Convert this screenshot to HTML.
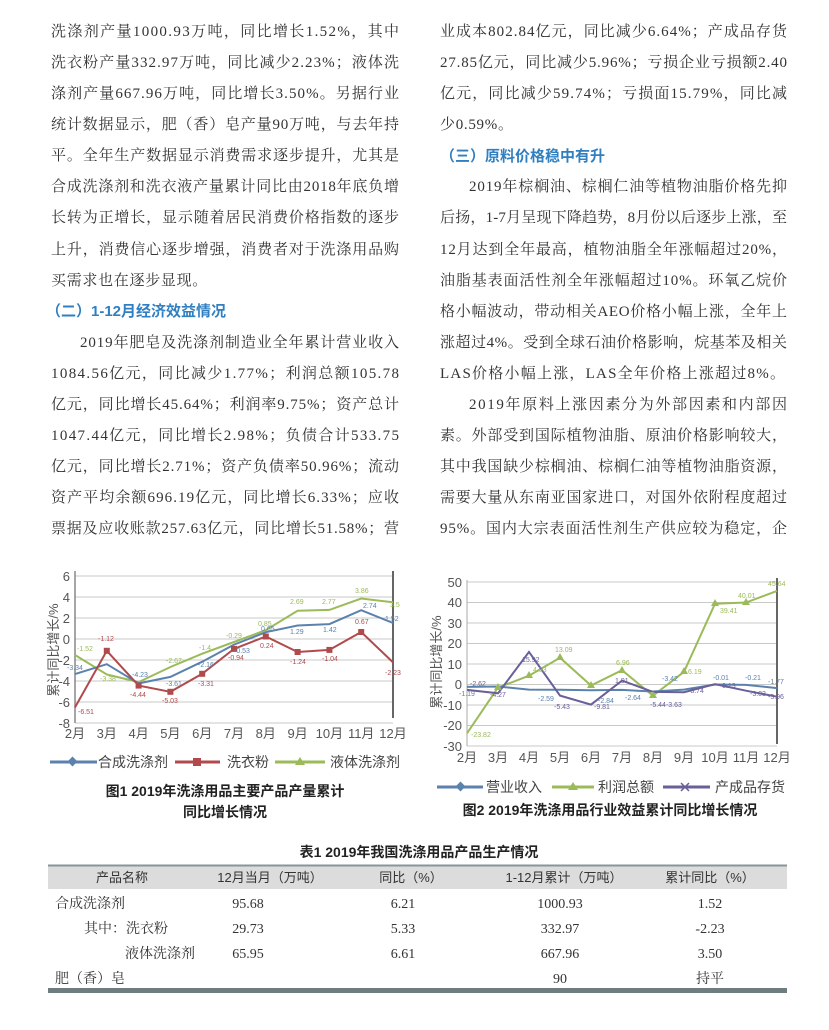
<!DOCTYPE html>
<html><head><meta charset="utf-8"><style>
html,body{margin:0;padding:0;background:#fff;}
svg{display:block;}
.t{font-family:"Liberation Serif","Noto Serif CJK SC",serif;font-size:15px;fill:#333;}
.h{font-family:"Liberation Sans","Noto Sans CJK SC",sans-serif;font-size:15px;font-weight:bold;fill:#2f7fc1;}
.ax{font-family:"Liberation Sans","Noto Sans CJK SC",sans-serif;font-size:13px;fill:#555;}
.lg{font-family:"Liberation Sans","Noto Sans CJK SC",sans-serif;font-size:14px;fill:#444;}
.cap{font-family:"Liberation Sans","Noto Sans CJK SC",sans-serif;font-size:14px;font-weight:bold;fill:#222;}
.dl{font-family:"Liberation Sans",sans-serif;font-size:7px;}
.tb{font-family:"Liberation Serif","Noto Serif CJK SC",serif;font-size:14px;fill:#333;}
.th{font-family:"Liberation Sans","Noto Sans CJK SC",sans-serif;font-size:13px;fill:#333;}
</style></head><body>
<svg width="829" height="1030" viewBox="0 0 829 1030" xmlns="http://www.w3.org/2000/svg">
<rect width="829" height="1030" fill="#fff"/>
<g class="t">
<text x="51" y="36" textLength="348" lengthAdjust="spacing">洗涤剂产量1000.93万吨，同比增长1.52%，其中</text>
<text x="51" y="67" textLength="348" lengthAdjust="spacing">洗衣粉产量332.97万吨，同比减少2.23%；液体洗</text>
<text x="51" y="98" textLength="348" lengthAdjust="spacing">涤剂产量667.96万吨，同比增长3.50%。另据行业</text>
<text x="51" y="129" textLength="348" lengthAdjust="spacing">统计数据显示，肥（香）皂产量90万吨，与去年持</text>
<text x="51" y="160" textLength="348" lengthAdjust="spacing">平。全年生产数据显示消费需求逐步提升，尤其是</text>
<text x="51" y="191" textLength="348" lengthAdjust="spacing">合成洗涤剂和洗衣液产量累计同比由2018年底负增</text>
<text x="51" y="222" textLength="348" lengthAdjust="spacing">长转为正增长，显示随着居民消费价格指数的逐步</text>
<text x="51" y="254" textLength="348" lengthAdjust="spacing">上升，消费信心逐步增强，消费者对于洗涤用品购</text>
<text x="51" y="285" letter-spacing="0.7">买需求也在逐步显现。</text>
<text x="80" y="347" textLength="319" lengthAdjust="spacing">2019年肥皂及洗涤剂制造业全年累计营业收入</text>
<text x="51" y="378" textLength="348" lengthAdjust="spacing">1084.56亿元，同比减少1.77%；利润总额105.78</text>
<text x="51" y="409" textLength="348" lengthAdjust="spacing">亿元，同比增长45.64%；利润率9.75%；资产总计</text>
<text x="51" y="440" textLength="348" lengthAdjust="spacing">1047.44亿元，同比增长2.98%；负债合计533.75</text>
<text x="51" y="471" textLength="348" lengthAdjust="spacing">亿元，同比增长2.71%；资产负债率50.96%；流动</text>
<text x="51" y="502" textLength="348" lengthAdjust="spacing">资产平均余额696.19亿元，同比增长6.33%；应收</text>
<text x="51" y="533" textLength="348" lengthAdjust="spacing">票据及应收账款257.63亿元，同比增长51.58%；营</text>
</g>
<text class="h" x="46" y="316">（二）1-12月经济效益情况</text>
<g class="t">
<text x="440" y="36" textLength="347" lengthAdjust="spacing">业成本802.84亿元，同比减少6.64%；产成品存货</text>
<text x="440" y="67" textLength="347" lengthAdjust="spacing">27.85亿元，同比减少5.96%；亏损企业亏损额2.40</text>
<text x="440" y="98" textLength="347" lengthAdjust="spacing">亿元，同比减少59.74%；亏损面15.79%，同比减</text>
<text x="440" y="129" letter-spacing="0.7">少0.59%。</text>
<text x="469" y="191" textLength="318" lengthAdjust="spacing">2019年棕榈油、棕榈仁油等植物油脂价格先抑</text>
<text x="440" y="222" textLength="347" lengthAdjust="spacing">后扬，1-7月呈现下降趋势，8月份以后逐步上涨，至</text>
<text x="440" y="254" textLength="347" lengthAdjust="spacing">12月达到全年最高，植物油脂全年涨幅超过20%，</text>
<text x="440" y="285" textLength="347" lengthAdjust="spacing">油脂基表面活性剂全年涨幅超过10%。环氧乙烷价</text>
<text x="440" y="316" textLength="347" lengthAdjust="spacing">格小幅波动，带动相关AEO价格小幅上涨，全年上</text>
<text x="440" y="347" textLength="347" lengthAdjust="spacing">涨超过4%。受到全球石油价格影响，烷基苯及相关</text>
<text x="440" y="378" textLength="345" lengthAdjust="spacing">LAS价格小幅上涨，LAS全年价格上涨超过8%。</text>
<text x="469" y="409" textLength="318" lengthAdjust="spacing">2019年原料上涨因素分为外部因素和内部因</text>
<text x="440" y="440" textLength="347" lengthAdjust="spacing">素。外部受到国际植物油脂、原油价格影响较大，</text>
<text x="440" y="471" textLength="347" lengthAdjust="spacing">其中我国缺少棕榈油、棕榈仁油等植物油脂资源，</text>
<text x="440" y="502" textLength="347" lengthAdjust="spacing">需要大量从东南亚国家进口，对国外依附程度超过</text>
<text x="440" y="533" textLength="347" lengthAdjust="spacing">95%。国内大宗表面活性剂生产供应较为稳定，企</text>
</g>
<text class="h" x="440" y="161">（三）原料价格稳中有升</text>

<!-- Chart 1 -->
<g stroke="#c8c8c8" stroke-width="1">
<line x1="75" y1="576" x2="393" y2="576"/><line x1="75" y1="597" x2="393" y2="597"/>
<line x1="75" y1="618" x2="393" y2="618"/><line x1="75" y1="639" x2="393" y2="639"/>
<line x1="75" y1="660" x2="393" y2="660"/><line x1="75" y1="681" x2="393" y2="681"/>
<line x1="75" y1="702" x2="393" y2="702"/><line x1="75" y1="723" x2="393" y2="723"/>
</g>
<line x1="75" y1="571" x2="75" y2="723" stroke="#888" stroke-width="1.5"/>
<line x1="393" y1="571" x2="393" y2="718" stroke="#666" stroke-width="2"/>
<g class="ax" text-anchor="end">
<text x="70" y="581">6</text><text x="70" y="602">4</text><text x="70" y="623">2</text><text x="70" y="644">0</text>
<text x="70" y="665">-2</text><text x="70" y="686">-4</text><text x="70" y="707">-6</text><text x="70" y="728">-8</text>
</g>
<g class="ax" text-anchor="middle">
<text x="75" y="738">2月</text><text x="106.8" y="738">3月</text><text x="138.6" y="738">4月</text><text x="170.4" y="738">5月</text>
<text x="202.2" y="738">6月</text><text x="234" y="738">7月</text><text x="265.8" y="738">8月</text><text x="297.6" y="738">9月</text>
<text x="329.4" y="738">10月</text><text x="361.2" y="738">11月</text><text x="393" y="738">12月</text>
</g>
<text class="ax" transform="translate(58,650) rotate(-90)" text-anchor="middle" font-size="12">累计同比增长/%</text>
<polyline fill="none" stroke="#9bbb59" stroke-width="2" points="75,655 106.8,674.5 138.6,682.1 170.4,667 202.2,653.7 234,642 265.8,630.1 297.6,610.8 329.4,609.9 361.2,598.5 393,602.3"/>
<polyline fill="none" stroke="#5b82ad" stroke-width="2" points="75,674.1 106.8,664.2 138.6,683.4 170.4,676.9 202.2,661.7 234,644.6 265.8,632.2 297.6,625.5 329.4,624.1 361.2,610.2 393,623"/>
<polyline fill="none" stroke="#b04a4c" stroke-width="2" points="75,707.4 106.8,650.8 138.6,685.6 170.4,691.8 202.2,673.8 234,648.9 265.8,636.5 297.6,652 329.4,649.9 361.2,632 393,662.4"/>
<g fill="#b04a4c">
<rect x="103.8" y="647.8" width="6" height="6"/><rect x="135.6" y="682.6" width="6" height="6"/><rect x="167.4" y="688.8" width="6" height="6"/>
<rect x="199.2" y="670.8" width="6" height="6"/><rect x="231" y="645.9" width="6" height="6"/><rect x="262.8" y="633.5" width="6" height="6"/>
<rect x="294.6" y="649" width="6" height="6"/><rect x="326.4" y="646.9" width="6" height="6"/><rect x="358.2" y="629" width="6" height="6"/>
</g>
<g class="dl" fill="#b04a4c">
<text x="78" y="714">-6.51</text><text x="98" y="641">-1.12</text><text x="130" y="697">-4.44</text><text x="162" y="703">-5.03</text>
<text x="198" y="686">-3.31</text><text x="228" y="660">-0.94</text><text x="260" y="648">0.24</text><text x="290" y="664">-1.24</text>
<text x="322" y="661">-1.04</text><text x="355" y="624">0.67</text><text x="385" y="675">-2.23</text>
</g>
<g class="dl" fill="#5b82ad">
<text x="67" y="670">-3.34</text><text x="132" y="677">-4.23</text><text x="166" y="686">-3.61</text><text x="198" y="667">-2.16</text>
<text x="234" y="653">-0.53</text><text x="261" y="631">0.65</text><text x="290" y="634">1.29</text><text x="323" y="632">1.42</text>
<text x="363" y="608">2.74</text><text x="385" y="621">1.52</text>
</g>
<g class="dl" fill="#9bbb59">
<text x="77" y="651">-1.52</text><text x="100" y="681">-3.38</text><text x="166" y="663">-2.67</text><text x="199" y="650">-1.4</text>
<text x="226" y="638">-0.29</text><text x="258" y="626">0.85</text><text x="290" y="604">2.69</text><text x="322" y="604">2.77</text>
<text x="355" y="593">3.86</text><text x="390" y="607">3.5</text>
</g>
<line x1="50" y1="762" x2="97" y2="762" stroke="#5b82ad" stroke-width="3"/>
<rect x="69" y="758" width="7" height="7" fill="#5b82ad" transform="rotate(45 72.5 761.5)"/>
<text class="lg" x="98" y="767">合成洗涤剂</text>
<line x1="175" y1="762" x2="220" y2="762" stroke="#b04a4c" stroke-width="3"/>
<rect x="193" y="758" width="8" height="8" fill="#b04a4c"/>
<text class="lg" x="227" y="767">洗衣粉</text>
<line x1="275" y1="762" x2="325" y2="762" stroke="#9bbb59" stroke-width="3"/>
<polygon points="300,757 305,765 295,765" fill="#9bbb59"/>
<text class="lg" x="330" y="767">液体洗涤剂</text>
<text class="cap" x="225" y="796" text-anchor="middle">图1 2019年洗涤用品主要产品产量累计</text>
<text class="cap" x="225" y="817" text-anchor="middle">同比增长情况</text>

<!-- Chart 2 -->
<g stroke="#c8c8c8" stroke-width="1">
<line x1="467" y1="582" x2="777" y2="582"/><line x1="467" y1="602.5" x2="777" y2="602.5"/>
<line x1="467" y1="623" x2="777" y2="623"/><line x1="467" y1="643.5" x2="777" y2="643.5"/>
<line x1="467" y1="664" x2="777" y2="664"/><line x1="467" y1="684.5" x2="777" y2="684.5"/>
<line x1="467" y1="705" x2="777" y2="705"/><line x1="467" y1="725.5" x2="777" y2="725.5"/>
<line x1="467" y1="746" x2="777" y2="746"/>
</g>
<line x1="467" y1="580" x2="467" y2="746" stroke="#aaa" stroke-width="1"/>
<line x1="777" y1="578" x2="777" y2="744" stroke="#666" stroke-width="2"/>
<g class="ax" text-anchor="end">
<text x="462" y="587">50</text><text x="462" y="607">40</text><text x="462" y="628">30</text><text x="462" y="648">20</text>
<text x="462" y="669">10</text><text x="462" y="689">0</text><text x="462" y="710">-10</text><text x="462" y="730">-20</text><text x="462" y="751">-30</text>
</g>
<g class="ax" text-anchor="middle">
<text x="467" y="762">2月</text><text x="498" y="762">3月</text><text x="529" y="762">4月</text><text x="560" y="762">5月</text>
<text x="591" y="762">6月</text><text x="622" y="762">7月</text><text x="653" y="762">8月</text><text x="684" y="762">9月</text>
<text x="715" y="762">10月</text><text x="746" y="762">11月</text><text x="777" y="762">12月</text>
</g>
<text class="ax" transform="translate(441,662) rotate(-90)" text-anchor="middle" font-size="12">累计同比增长/%</text>
<polyline fill="none" stroke="#9bbb59" stroke-width="2" points="467,733.3 498,687.6 529,675.7 560,657.7 591,685.5 622,670.2 653,695.7 684,671.8 715,603.7 746,602.5 777,590.9"/>
<polyline fill="none" stroke="#5b82ad" stroke-width="2" points="467,686.9 498,686.5 529,689.6 560,689.8 591,690.2 622,689.9 653,691.5 684,689.6 715,684.5 746,684.9 777,688.1"/>
<polyline fill="none" stroke="#6a5f98" stroke-width="2" points="467,689.9 498,693.3 529,651.9 560,695.6 591,704.6 622,680.6 653,691.9 684,692.2 715,684.2 746,690.7 777,696.7"/>
<g fill="#9bbb59">
<polygon points="498,683 502,690 494,690"/><polygon points="529,671 533,678 525,678"/><polygon points="560,653 564,660 556,660"/>
<polygon points="591,681 595,688 587,688"/><polygon points="622,666 626,673 618,673"/><polygon points="653,691 657,698 649,698"/>
<polygon points="684,667 688,674 680,674"/><polygon points="715,599 719,606 711,606"/><polygon points="746,598 750,605 742,605"/>
</g>
<g class="dl" fill="#9bbb59">
<text x="471" y="737">-23.82</text><text x="555" y="652">13.09</text><text x="616" y="665">6.96</text><text x="688" y="674">6.19</text>
<text x="720" y="613">39.41</text><text x="738" y="598">40.01</text><text x="768" y="586">45.64</text><text x="533" y="672">4.33</text>
</g>
<g class="dl" fill="#6a5f98">
<text x="470" y="686">-2.62</text><text x="490" y="697">-4.27</text><text x="522" y="662">15.92</text><text x="554" y="709">-5.43</text>
<text x="594" y="709">-9.81</text><text x="615" y="683">1.91</text><text x="650" y="707">-5.44-3.63</text><text x="688" y="693">-3.74</text>
<text x="722" y="688">0.13</text><text x="750" y="696">-3.03</text><text x="768" y="699">-5.96</text>
</g>
<g class="dl" fill="#5b82ad">
<text x="459" y="696">-1.19</text><text x="538" y="701">-2.59</text><text x="598" y="703">-2.84</text><text x="625" y="700">-2.64</text>
<text x="662" y="681">-3.42</text><text x="713" y="680">-0.01</text><text x="745" y="680">-0.21</text><text x="768" y="684">-1.77</text>
</g>
<line x1="437" y1="787" x2="483" y2="787" stroke="#5b82ad" stroke-width="3"/>
<rect x="457" y="783" width="7" height="7" fill="#5b82ad" transform="rotate(45 460.5 786.5)"/>
<text class="lg" x="486" y="792">营业收入</text>
<line x1="552" y1="787" x2="594" y2="787" stroke="#9bbb59" stroke-width="3"/>
<polygon points="573,782 578,790 568,790" fill="#9bbb59"/>
<text class="lg" x="598" y="792">利润总额</text>
<line x1="663" y1="787" x2="710" y2="787" stroke="#6a5f98" stroke-width="3"/>
<path d="M681,783 L689,791 M689,783 L681,791" stroke="#6a5f98" stroke-width="1.5"/>
<text class="lg" x="715" y="792">产成品存货</text>
<text class="cap" x="610" y="815" text-anchor="middle">图2 2019年洗涤用品行业效益累计同比增长情况</text>

<!-- Table -->
<text class="cap" x="419" y="857" text-anchor="middle" font-size="14">表1 2019年我国洗涤用品产品生产情况</text>
<rect x="48" y="865" width="739" height="24" fill="#dcdcdc"/>
<line x1="48" y1="865.5" x2="787" y2="865.5" stroke="#8a9598" stroke-width="2"/>
<g class="th" text-anchor="middle">
<text x="122" y="882">产品名称</text><text x="270" y="882">12月当月（万吨）</text><text x="411" y="882">同比（%）</text>
<text x="564" y="882">1-12月累计（万吨）</text><text x="710" y="882">累计同比（%）</text>
</g>
<g class="tb">
<text x="55" y="908">合成洗涤剂</text>
<text x="84" y="933">其中：洗衣粉</text>
<text x="125" y="958">液体洗涤剂</text>
<text x="55" y="983">肥（香）皂</text>
</g>
<g class="tb" text-anchor="middle">
<text x="248" y="908">95.68</text><text x="403" y="908">6.21</text><text x="560" y="908">1000.93</text><text x="710" y="908">1.52</text>
<text x="248" y="933">29.73</text><text x="403" y="933">5.33</text><text x="560" y="933">332.97</text><text x="710" y="933">-2.23</text>
<text x="248" y="958">65.95</text><text x="403" y="958">6.61</text><text x="560" y="958">667.96</text><text x="710" y="958">3.50</text>
<text x="560" y="983">90</text><text x="710" y="983">持平</text>
</g>
<rect x="48" y="988" width="739" height="5" fill="#6f7c80"/>
</svg>
</body></html>
